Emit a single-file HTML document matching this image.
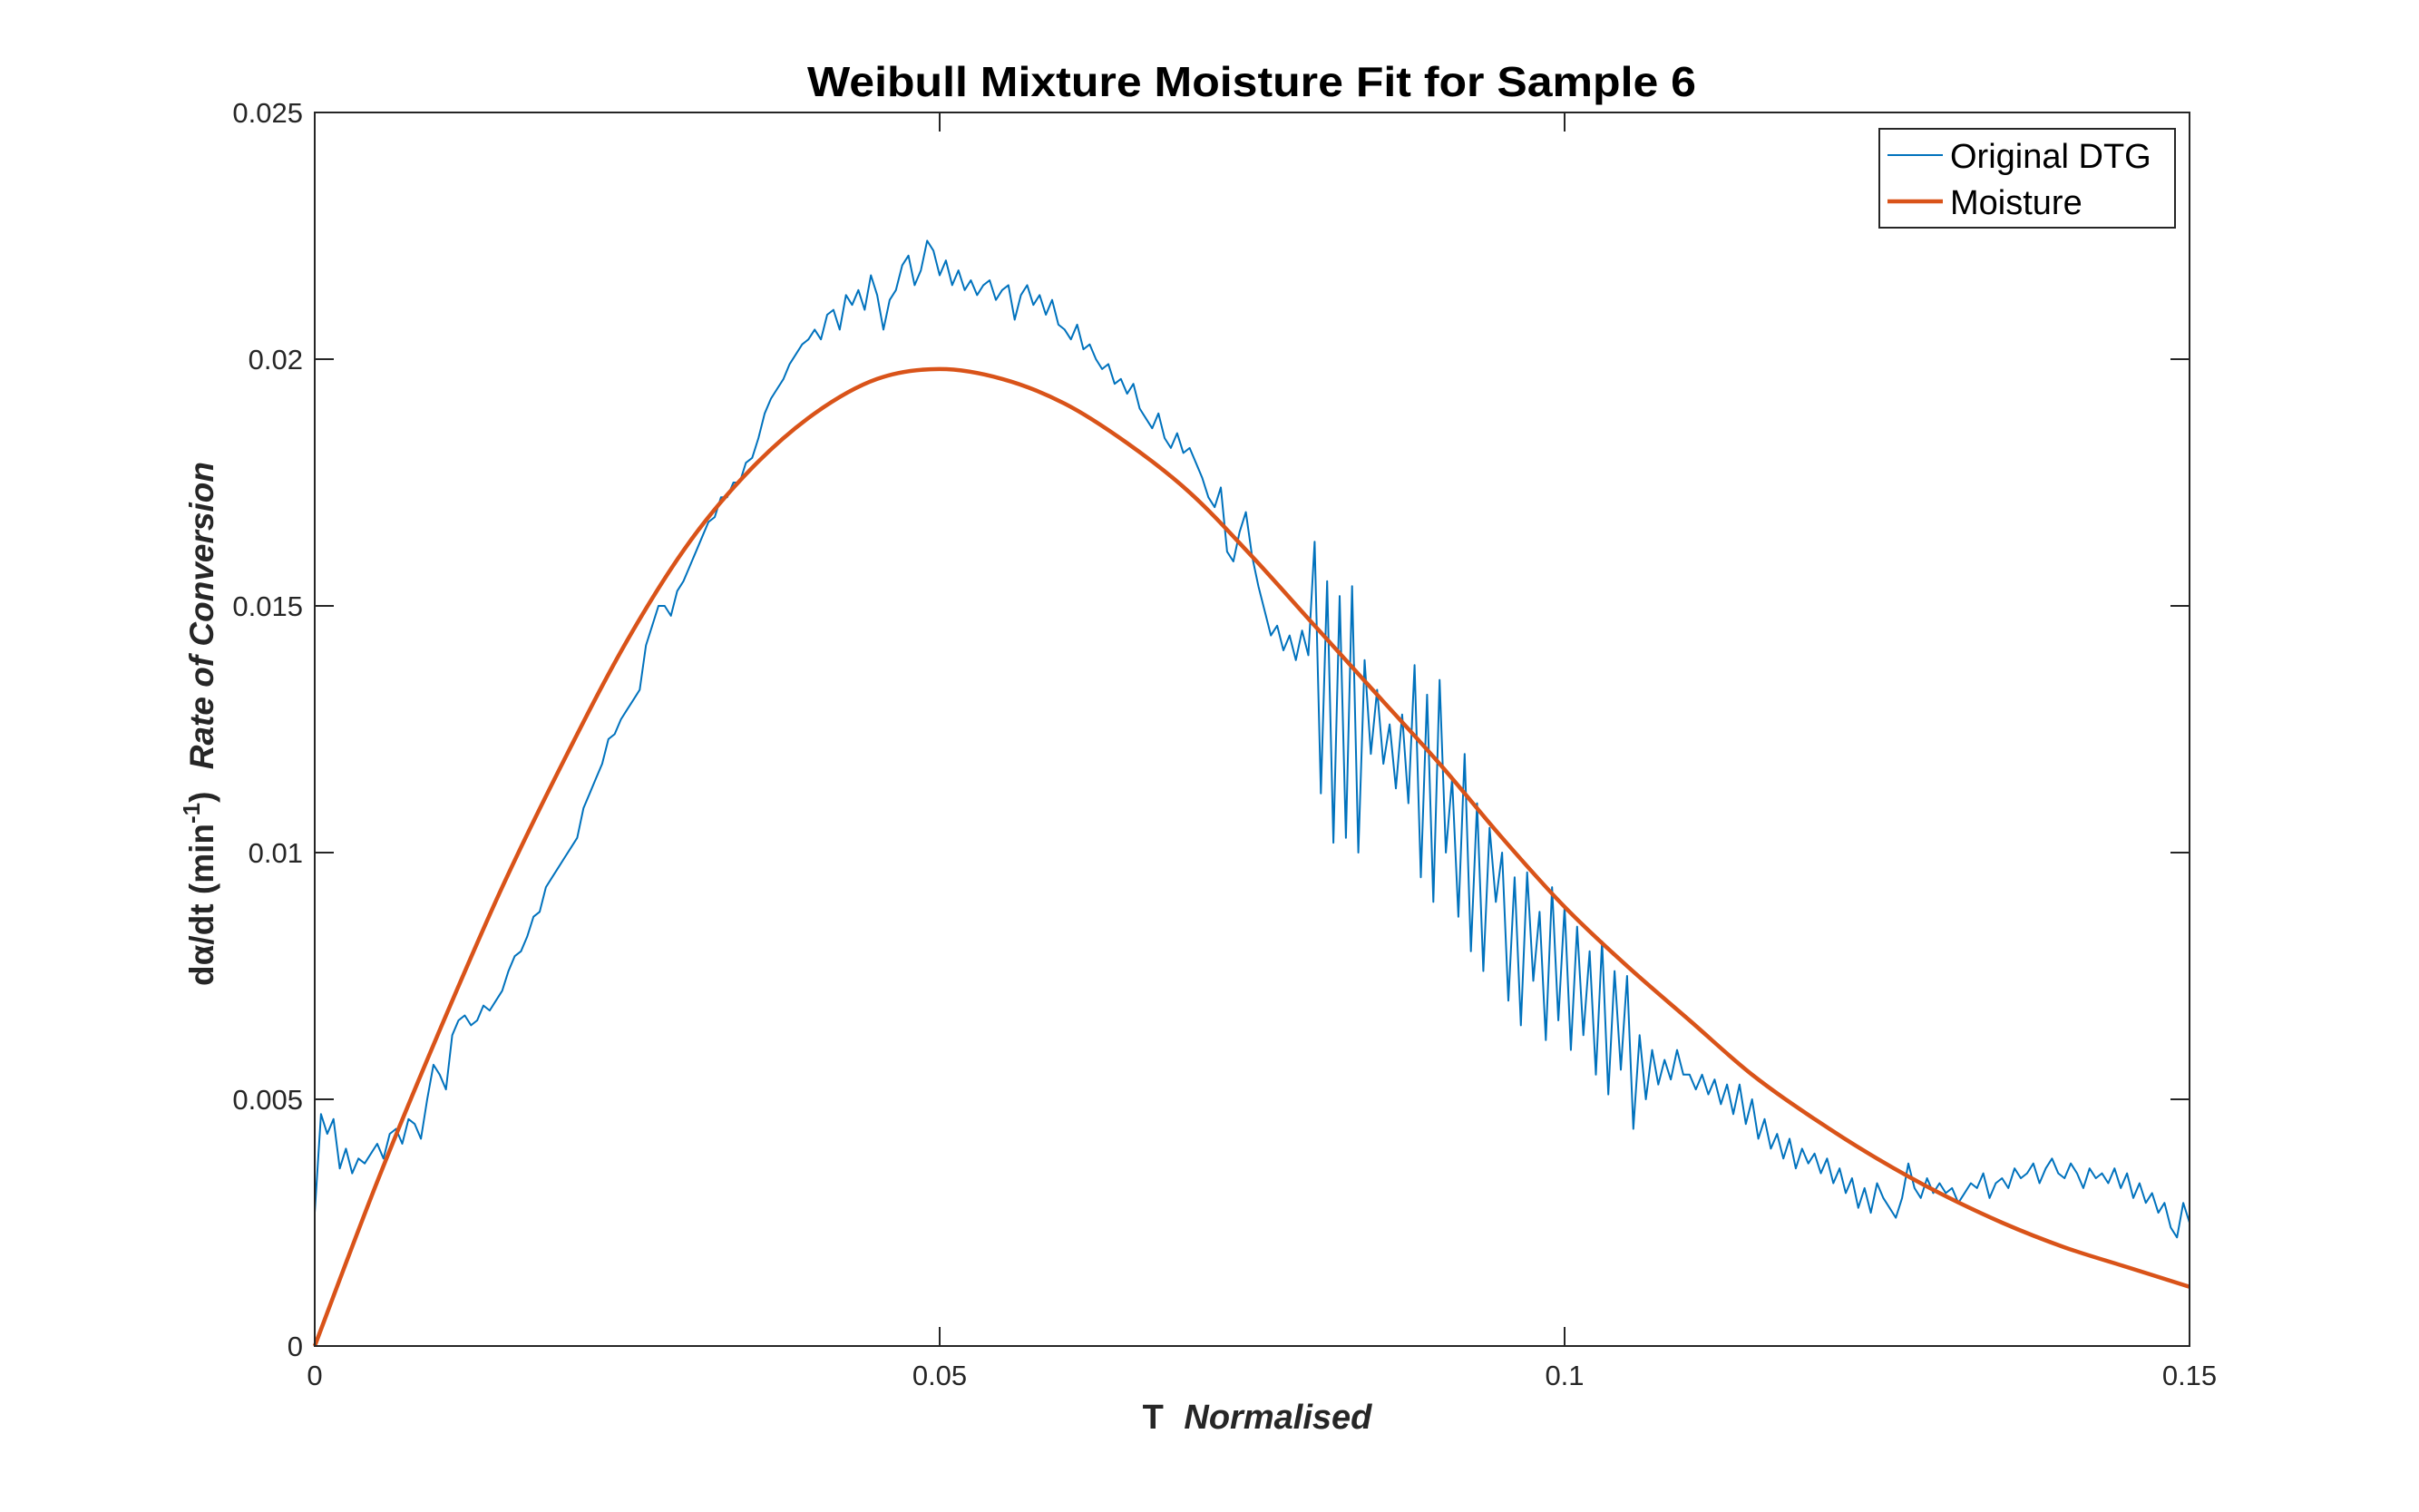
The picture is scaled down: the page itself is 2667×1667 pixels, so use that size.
<!DOCTYPE html>
<html><head><meta charset="utf-8"><style>
html,body{margin:0;padding:0;background:#fff;}
svg{display:block;font-family:"Liberation Sans",sans-serif;}
</style></head><body>
<svg id="chart" width="2667" height="1667" viewBox="0 0 2667 1667">
<rect x="0" y="0" width="2667" height="1667" fill="#fff"/>
<text x="1380" y="106" text-anchor="middle" font-size="46" font-weight="bold" fill="#000" textLength="980" lengthAdjust="spacingAndGlyphs">Weibull Mixture Moisture Fit for Sample 6</text>
<g id="plot"></g>
<g id="axes"></g>
<text x="1386" y="1575" text-anchor="middle" font-size="38" font-weight="bold" fill="#262626">T <tspan font-style="italic" dx="12">Normalised</tspan></text>
<text transform="translate(235,798) rotate(-90)" text-anchor="middle" font-size="37" font-weight="bold" fill="#262626">dα/dt (min<tspan baseline-shift="super" font-size="26">-1</tspan>) <tspan font-style="italic" dx="14">Rate of Conversion</tspan></text>
<g>
<rect x="2072" y="142" width="326" height="109" fill="#fff" stroke="#262626" stroke-width="2"/>
<line x1="2081" y1="171" x2="2142" y2="171" stroke="#0072BD" stroke-width="2"/>
<text x="2150" y="185" font-size="38" fill="#000">Original DTG</text>
<line x1="2081" y1="222" x2="2142" y2="222" stroke="#D95319" stroke-width="4.5"/>
<text x="2150" y="236" font-size="38" fill="#000">Moisture</text>
</g>
</svg>
<script>
const xTicks = [0, 0.05, 0.1, 0.15];
const xTickLabels = ["0", "0.05", "0.1", "0.15"];
const yTicks = [0, 0.005, 0.01, 0.015, 0.02, 0.025];
const yTickLabels = ["0", "0.005", "0.01", "0.015", "0.02", "0.025"];
const moistureX = [0,0.005,0.01,0.015,0.02,0.025,0.03,0.035,0.04,0.045,0.05,0.055,0.06,0.065,0.07,0.075,0.08,0.085,0.09,0.095,0.1,0.105,0.11,0.115,0.12,0.125,0.13,0.135,0.14,0.145,0.15];
const moistureY = [0,0.00333,0.0064,0.0093,0.0119,0.0143,0.0163,0.0178,0.0189,0.0196,0.0198,0.0196,0.0191,0.0183,0.0173,0.0160,0.0146,0.0132,0.0118,0.0103,0.0089,0.0077,0.0066,0.0055,0.0046,0.0038,0.0031,0.0025,0.0020,0.0016,0.0012];
const dtgStep = 0.0005;
const dtgY = [
2.7,4.7,4.3,4.6,3.6,4.0,3.5,3.8,3.7,3.9,4.1,3.8,4.3,4.4,4.1,4.6,4.5,4.2,5.0,5.7,5.5,
5.2,6.3,6.6,6.7,6.5,6.6,6.9,6.8,7.0,7.2,7.6,7.9,8.0,8.3,8.7,8.8,9.3,9.5,9.7,9.9,
10.1,10.3,10.9,11.2,11.5,11.8,12.3,12.4,12.7,12.9,13.1,13.3,14.2,14.6,15.0,15.0,14.8,15.3,15.5,15.8,
16.1,16.4,16.7,16.8,17.2,17.2,17.5,17.5,17.9,18.0,18.4,18.9,19.2,19.4,19.6,19.9,20.1,20.3,20.4,20.6,
20.4,20.9,21.0,20.6,21.3,21.1,21.4,21.0,21.7,21.3,20.6,21.2,21.4,21.9,22.1,21.5,21.8,22.4,22.2,21.7,
22.0,21.5,21.8,21.4,21.6,21.3,21.5,21.6,21.2,21.4,21.5,20.8,21.3,21.5,21.1,21.3,20.9,21.2,20.7,20.6,
20.4,20.7,20.2,20.3,20.0,19.8,19.9,19.5,19.6,19.3,19.5,19.0,18.8,18.6,18.9,18.4,18.2,18.5,18.1,18.2,
17.9,17.6,17.2,17.0,17.4,16.1,15.9,16.5,16.9,16.0,15.4,14.9,14.4,14.6,14.1,14.4,13.9,14.5,14.0,16.3,
11.2,15.5,10.2,15.2,10.3,15.4,10.0,13.9,12.0,13.3,11.8,12.6,11.3,12.8,11.0,13.8,9.5,13.2,9.0,13.5,
10.0,11.5,8.7,12.0,8.0,11.0,7.6,10.5,9.0,10.0,7.0,9.5,6.5,9.6,7.4,8.8,6.2,9.3,6.6,8.9,
6.0,8.5,6.3,8.0,5.5,8.2,5.1,7.6,5.6,7.5,4.4,6.3,5.0,6.0,5.3,5.8,5.4,6.0,5.5,5.5,
5.2,5.5,5.1,5.4,4.9,5.3,4.7,5.3,4.5,5.0,4.2,4.6,4.0,4.3,3.8,4.2,3.6,4.0,3.7,3.9,
3.5,3.8,3.3,3.6,3.1,3.4,2.8,3.2,2.7,3.3,3.0,2.8,2.6,3.0,3.7,3.2,3.0,3.4,3.1,3.3,
3.1,3.2,2.9,3.1,3.3,3.2,3.5,3.0,3.3,3.4,3.2,3.6,3.4,3.5,3.7,3.3,3.6,3.8,3.5,3.4,
3.7,3.5,3.2,3.6,3.4,3.5,3.3,3.6,3.2,3.5,3.0,3.3,2.9,3.1,2.7,2.9,2.4,2.2,2.9,2.5];

const L=347,R=2414,T=124,B=1484;
const xMin=0,xMax=0.15,yMin=0,yMax=0.025;
function sx(v){return L+(v-xMin)/(xMax-xMin)*(R-L);}
function sy(v){return B-(v-yMin)/(yMax-yMin)*(B-T);}
const NS="http://www.w3.org/2000/svg";
const plot=document.getElementById('plot'), axes=document.getElementById('axes');
function mk(tag,attrs,parent){const e=document.createElementNS(NS,tag);for(const k in attrs)e.setAttribute(k,attrs[k]);parent.appendChild(e);return e;}

let d='';
dtgY.forEach((v,i)=>{d+=(i?'L':'M')+sx(i*dtgStep).toFixed(1)+','+sy(v/1000).toFixed(1);});
const dtg=mk('path',{d:d,fill:'none',stroke:'#0072BD','stroke-width':2,'stroke-linejoin':'round'},plot);



const pts=moistureX.map((x,i)=>[sx(x),sy(moistureY[i])]);
let m='M'+pts[0][0]+','+pts[0][1];
for(let i=0;i<pts.length-1;i++){
 const p0=pts[Math.max(0,i-1)],p1=pts[i],p2=pts[i+1],p3=pts[Math.min(pts.length-1,i+2)];
 const c1=[p1[0]+(p2[0]-p0[0])/6,p1[1]+(p2[1]-p0[1])/6];
 const c2=[p2[0]-(p3[0]-p1[0])/6,p2[1]-(p3[1]-p1[1])/6];
 m+='C'+c1[0].toFixed(1)+','+c1[1].toFixed(1)+' '+c2[0].toFixed(1)+','+c2[1].toFixed(1)+' '+p2[0].toFixed(1)+','+p2[1].toFixed(1);
}
const moist=mk('path',{d:m,fill:'none',stroke:'#D95319','stroke-width':4.5,'stroke-linejoin':'round'},plot);



const box=mk('rect',{x:L,y:T,width:R-L,height:B-T,fill:'none',stroke:'#262626','stroke-width':2},axes);



xTicks.forEach((v,i)=>{
 const x=sx(v);
 const t1=mk('line',{x1:x,y1:B,x2:x,y2:B-21,stroke:'#262626','stroke-width':2},axes);
 
 
 const t2=mk('line',{x1:x,y1:T,x2:x,y2:T+21,stroke:'#262626','stroke-width':2},axes);
 
 
 const lb=mk('text',{x:x,y:B+43,'text-anchor':'middle','font-size':31,fill:'#262626'},axes);
 lb.textContent=xTickLabels[i];
 
 
});
yTicks.forEach((v,i)=>{
 const y=sy(v);
 const t1=mk('line',{x1:L,y1:y,x2:L+21,y2:y,stroke:'#262626','stroke-width':2},axes);
 
 
 const t2=mk('line',{x1:R,y1:y,x2:R-21,y2:y,stroke:'#262626','stroke-width':2},axes);
 
 
 const lb=mk('text',{x:L-13,y:y+11,'text-anchor':'end','font-size':31,fill:'#262626'},axes);
 lb.textContent=yTickLabels[i];
 
 
});
</script>
</body></html>
